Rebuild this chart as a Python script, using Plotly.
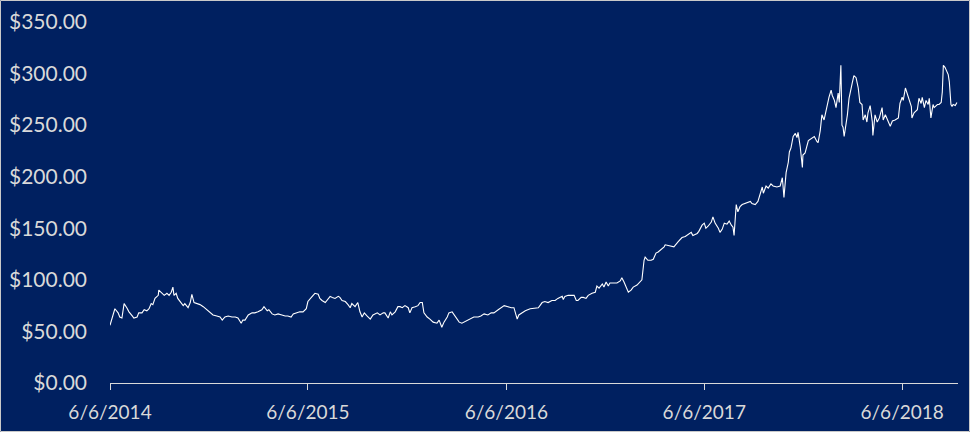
import plotly.graph_objects as go

# Daily closing price
dates = [
    "2014-06-06", "2014-06-15", "2014-06-21", "2014-06-24", "2014-06-28", "2014-07-02", "2014-07-07",
    "2014-07-11", "2014-07-17", "2014-07-20", "2014-07-26", "2014-07-29", "2014-08-04", "2014-08-08",
    "2014-08-13", "2014-08-17", "2014-08-21", "2014-08-24", "2014-08-28", "2014-09-03", "2014-09-04",
    "2014-09-10", "2014-09-14", "2014-09-19", "2014-09-23", "2014-09-27", "2014-09-30", "2014-10-02",
    "2014-10-06", "2014-10-09", "2014-10-15", "2014-10-19", "2014-10-22", "2014-10-28", "2014-11-01",
    "2014-11-04", "2014-11-08", "2014-11-13", "2014-11-19", "2014-11-25", "2014-12-02", "2014-12-07",
    "2014-12-13", "2014-12-20", "2014-12-26", "2014-12-30", "2015-01-04", "2015-01-10", "2015-01-17",
    "2015-01-23", "2015-01-28", "2015-02-03", "2015-02-06",
    "2015-02-10", "2015-02-16", "2015-02-23", "2015-02-28", "2015-03-06", "2015-03-13", "2015-03-17",
    "2015-03-23", "2015-03-26", "2015-04-01", "2015-04-06", "2015-04-12", "2015-04-19", "2015-04-25",
    "2015-04-30", "2015-05-06", "2015-05-10", "2015-05-17", "2015-05-22", "2015-05-28", "2015-06-03",
    "2015-06-06", "2015-06-10", "2015-06-14", "2015-06-19", "2015-06-25", "2015-06-28", "2015-07-02",
    "2015-07-08", "2015-07-13", "2015-07-17", "2015-07-21", "2015-07-26", "2015-08-01", "2015-08-04",
    "2015-08-08", "2015-08-14", "2015-08-19", "2015-08-23", "2015-08-26", "2015-09-01", "2015-09-06",
    "2015-09-10", "2015-09-14", "2015-09-18", "2015-09-23", "2015-09-29", "2015-10-04", "2015-10-12",
    "2015-10-17", "2015-10-23",
    "2015-10-26", "2015-11-01", "2015-11-05", "2015-11-08", "2015-11-14", "2015-11-19", "2015-11-23",
    "2015-11-27", "2015-12-02", "2015-12-08", "2015-12-11", "2015-12-15", "2015-12-21", "2015-12-26",
    "2015-12-30", "2016-01-03", "2016-01-06", "2016-01-12", "2016-01-17", "2016-01-23", "2016-01-30",
    "2016-02-03", "2016-02-08", "2016-02-12", "2016-02-18", "2016-02-21", "2016-02-27", "2016-03-02",
    "2016-03-07", "2016-03-11", "2016-03-16", "2016-03-20", "2016-03-27", "2016-04-02", "2016-04-07",
    "2016-04-15", "2016-04-20", "2016-04-26", "2016-05-03", "2016-05-09", "2016-05-14", "2016-05-22",
    "2016-05-27", "2016-06-02", "2016-06-09", "2016-06-15", "2016-06-20", "2016-06-26", "2016-06-29",
    "2016-07-05",
    "2016-07-11", "2016-07-20", "2016-08-04", "2016-08-11", "2016-08-16", "2016-08-22", "2016-08-29",
    "2016-09-04", "2016-09-09", "2016-09-17", "2016-09-19", "2016-09-22", "2016-09-28", "2016-10-05",
    "2016-10-09", "2016-10-13", "2016-10-16", "2016-10-22", "2016-10-26", "2016-10-31", "2016-11-04",
    "2016-11-11", "2016-11-17", "2016-11-20", "2016-11-24", "2016-11-30", "2016-12-03", "2016-12-07",
    "2016-12-11", "2016-12-14", "2016-12-20", "2016-12-27", "2017-01-02", "2017-01-05", "2017-01-09",
    "2017-01-15", "2017-01-17", "2017-01-22", "2017-01-26", "2017-02-02", "2017-02-08", "2017-02-11",
    "2017-02-15", "2017-02-17", "2017-02-22", "2017-02-28", "2017-03-04", "2017-03-09", "2017-03-13",
    "2017-03-20", "2017-03-24",
    "2017-03-26", "2017-04-04", "2017-04-11", "2017-04-19", "2017-04-26", "2017-05-02", "2017-05-07",
    "2017-05-13", "2017-05-16", "2017-05-24", "2017-05-27", "2017-06-02", "2017-06-06", "2017-06-09",
    "2017-06-13", "2017-06-19", "2017-06-22", "2017-06-26", "2017-07-02", "2017-07-05", "2017-07-09",
    "2017-07-13", "2017-07-18", "2017-07-22", "2017-07-26", "2017-07-29", "2017-07-31", "2017-08-04",
    "2017-08-07", "2017-08-11", "2017-08-15", "2017-08-20", "2017-08-26", "2017-08-30", "2017-09-02",
    "2017-09-08", "2017-09-13", "2017-09-17", "2017-09-21", "2017-09-23", "2017-09-28", "2017-10-02",
    "2017-10-07", "2017-10-11", "2017-10-18", "2017-10-24", "2017-10-28", "2017-10-29", "2017-10-31",
    "2017-11-04", "2017-11-08", "2017-11-10", "2017-11-13", "2017-11-17", "2017-11-21", "2017-11-24",
    "2017-11-26", "2017-11-30", "2017-12-04", "2017-12-05",
    "2017-12-09", "2017-12-15", "2017-12-20", "2017-12-26", "2017-12-31", "2018-01-02", "2018-01-06",
    "2018-01-09", "2018-01-13", "2018-01-19", "2018-01-22", "2018-01-26", "2018-01-28", "2018-02-01",
    "2018-02-04", "2018-02-08", "2018-02-10", "2018-02-13", "2018-02-15", "2018-02-17", "2018-02-19",
    "2018-02-25", "2018-02-28", "2018-03-06", "2018-03-09", "2018-03-13", "2018-03-17", "2018-03-20",
    "2018-03-24", "2018-03-26", "2018-03-30", "2018-04-02", "2018-04-04", "2018-04-08", "2018-04-12",
    "2018-04-13", "2018-04-17", "2018-04-21", "2018-04-25", "2018-04-30", "2018-05-02", "2018-05-06",
    "2018-05-11", "2018-05-15", "2018-05-19", "2018-05-24", "2018-05-30", "2018-06-02", "2018-06-06",
    "2018-06-08", "2018-06-12", "2018-06-15", "2018-06-17", "2018-06-23", "2018-06-24", "2018-06-28",
    "2018-07-04", "2018-07-07", "2018-07-11", "2018-07-13", "2018-07-17", "2018-07-20", "2018-07-24",
    "2018-07-26", "2018-07-29", "2018-08-02", "2018-08-04", "2018-08-10", "2018-08-13", "2018-08-17",
    "2018-08-19", "2018-08-21", "2018-08-24", "2018-08-30", "2018-09-01", "2018-09-04", "2018-09-06",
    "2018-09-08", "2018-09-12", "2018-09-15",
]
prices = [
    56, 72, 68, 64, 63, 77, 73,
    69, 65, 63, 64, 68, 68, 71,
    70, 72, 77, 76, 82, 85, 90,
    87, 85, 87, 85, 88, 93, 85,
    87, 82, 78, 75, 77, 73, 78,
    86, 78, 77, 76, 74, 71, 68,
    66, 65, 64, 61, 64, 65, 64,
    64, 63, 58, 61,
    61, 66, 68, 68, 69, 71, 74,
    70, 71, 67, 66, 67, 66, 65,
    65, 64, 67, 68, 69, 69, 72,
    79, 82, 84, 87, 86, 82, 80,
    78, 81, 84, 83, 82, 84, 83,
    80, 79, 76, 73, 77, 74, 78,
    69, 64, 68, 65, 62, 66, 68,
    66, 68,
    68, 63, 69, 66, 69, 74, 74,
    73, 75, 73, 68, 73, 74, 75,
    78, 78, 68, 64, 62, 59, 58,
    61, 54, 59, 64, 68, 69, 66,
    63, 59, 58, 59, 61, 62, 64,
    64, 65, 67, 66, 68, 68, 71,
    73, 75, 74, 73, 73, 62, 66,
    68,
    70, 72, 73, 78, 79, 78, 80,
    80, 82, 84, 81, 84, 85, 85,
    85, 80, 80, 83, 83, 82, 85,
    87, 88, 94, 92, 96, 93, 98,
    94, 97, 97, 97, 99, 102, 98,
    90, 88, 90, 93, 95, 98, 100,
    119, 122, 119, 119, 120, 126, 127,
    130, 132,
    134, 133, 132, 137, 141, 142, 144,
    146, 143, 145, 147, 153, 155, 150,
    152, 156, 161, 155, 150, 146, 149,
    155, 154, 157, 153, 151, 143, 173,
    166, 171, 173, 174, 175, 176, 174,
    173, 176, 182, 190, 184, 191, 189,
    193, 191, 190, 191, 199, 193, 180,
    204, 214, 224, 228, 239, 242, 238,
    243, 229, 209, 221,
    223, 235, 237, 239, 234, 233, 245,
    260, 255, 272, 277, 284, 279, 274,
    267, 281, 272, 308, 250, 248, 239,
    260, 276, 291, 298, 296, 286, 272,
    270, 255, 260, 253, 262, 269, 253,
    240, 260, 253, 257, 267, 255, 260,
    253, 249, 254, 255, 257, 271, 277,
    274, 286, 281, 276, 268, 257, 262,
    265, 276, 271, 277, 267, 274, 270,
    276, 257, 270, 267, 270, 270, 272,
    282, 308, 306, 299, 292, 270, 268,
    270, 269, 272,
]

y_ticks = [0, 50, 100, 150, 200, 250, 300, 350]
y_tick_labels = ["$0.00", "$50.00", "$100.00", "$150.00", "$200.00", "$250.00", "$300.00", "$350.00"]
x_ticks = ["2014-06-06", "2015-06-06", "2016-06-06", "2017-06-06", "2018-06-06"]
x_tick_labels = ["6/6/2014", "6/6/2015", "6/6/2016", "6/6/2017", "6/6/2018"]

BG = "#002060"
TXT = "#d9d9d9"
FONT = "Lato, Open Sans, sans-serif"

fig = go.Figure()
fig.add_trace(go.Scatter(
    x=dates, y=prices, mode="lines",
    line=dict(color="#ffffff", width=1.1),
    hoverinfo="x+y", showlegend=False,
))

fig.update_layout(
    width=970, height=432,
    margin=dict(l=110, r=12, t=22, b=49, autoexpand=False),
    paper_bgcolor=BG, plot_bgcolor=BG,
    font=dict(family=FONT, size=19, color=TXT),
    showlegend=False,
    xaxis=dict(
        type="date",
        range=["2014-06-06", "2018-09-17"],
        tickmode="array", tickvals=x_ticks, ticktext=x_tick_labels,
        showgrid=False, zeroline=False, automargin=False,
        showline=True, linecolor=TXT, linewidth=1,
        ticks="outside", ticklen=6, tickcolor=TXT, tickwidth=1,
        ticklabelstandoff=6,
        tickfont=dict(family=FONT, size=19, color=TXT),
    ),
    yaxis=dict(
        range=[0, 350],
        tickmode="array", tickvals=y_ticks, ticktext=y_tick_labels,
        showgrid=False, zeroline=False, showline=False, automargin=False,
        ticks="", ticklabelstandoff=22,
        tickfont=dict(family=FONT, size=21, color=TXT),
    ),
    shapes=[dict(
        type="rect", xref="paper", yref="paper",
        x0=-109.5 / 848, x1=1 + 11.5 / 848, y0=-48.5 / 361, y1=1 + 21.5 / 361,
        line=dict(color="#c9c9c9", width=1), fillcolor="rgba(0,0,0,0)", layer="above",
    )],
)

fig.write_html(
    "out.html",
    config={"displayModeBar": False},
    post_script="document.body.style.margin='0';document.body.style.padding='0';",
)
